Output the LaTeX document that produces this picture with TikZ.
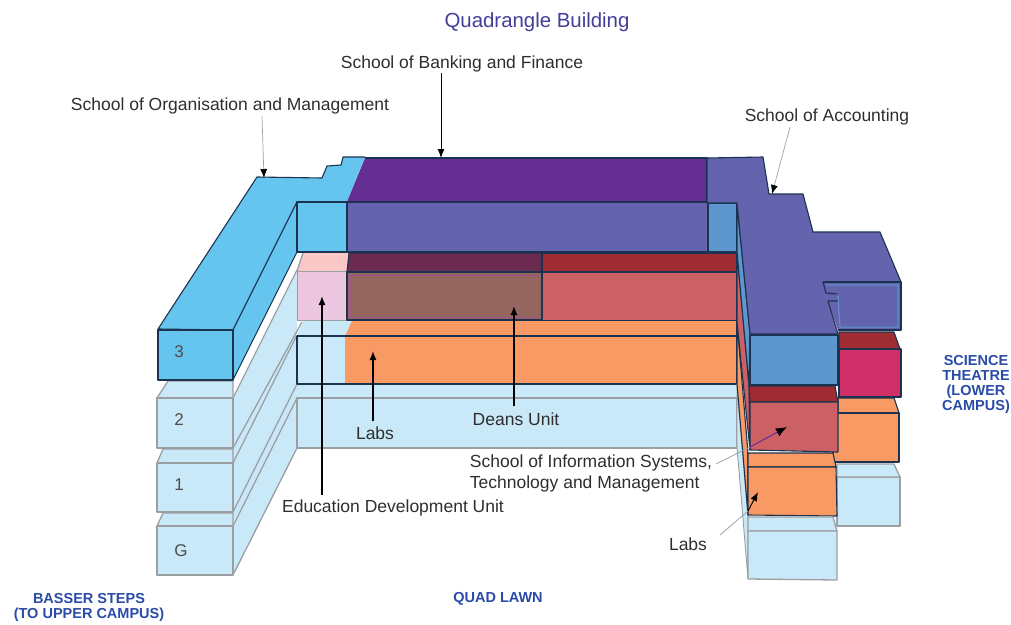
\documentclass[tikz,border=0pt]{standalone}
\usepackage{fontspec}
\setmainfont{Liberation Sans}
\usetikzlibrary{arrows.meta}
\definecolor{skyb}{HTML}{66C5EE}
\definecolor{palebl}{HTML}{C9E8F8}
\definecolor{purp}{HTML}{642D91}
\definecolor{viol}{HTML}{6463AE}
\definecolor{midbl}{HTML}{5E97CE}
\definecolor{dkred}{HTML}{A02C33}
\definecolor{salm}{HTML}{CB6165}
\definecolor{orng}{HTML}{F99A65}
\definecolor{pinkf}{HTML}{EDC6DF}
\definecolor{pinkt}{HTML}{FBC8C8}
\definecolor{mar}{HTML}{6B2A50}
\definecolor{mud}{HTML}{95655F}
\definecolor{crim}{HTML}{CE2F66}
\definecolor{edged}{HTML}{1B3350}
\definecolor{edgeg}{HTML}{9B9FA3}
\definecolor{titleb}{HTML}{433E98}
\definecolor{campb}{HTML}{2A4BA8}
\definecolor{inkc}{HTML}{2E2E2E}
\definecolor{leadg}{HTML}{9AA5AA}
\definecolor{frameb}{HTML}{5E97CE}
\definecolor{framem}{HTML}{A0508A}
\tikzset{
 dk/.style={draw=edged,line width=1.1pt,line join=round},
 gr/.style={draw=edgeg,line width=1.3pt,line join=round},
 lab/.style={font=\fontsize{17.5}{21}\selectfont,text=inkc,inner sep=0pt},
 camp/.style={font=\bfseries\fontsize{14.5}{14.8}\selectfont,text=campb,align=center,inner sep=0pt},
 lev/.style={font=\fontsize{17}{20}\selectfont,text=inkc!85,inner sep=0pt},
 lead/.style={draw=leadg,line width=0.7pt,-{Latex[length=9pt,width=7pt,black]}},
 blk/.style={draw=black,line width=1.3pt,-{Latex[length=9pt,width=7pt,black]}},
}
\begin{document}
\begin{tikzpicture}[x=1pt,y=-1pt]
\useasboundingbox (0,0) rectangle (1011,624);
% ---- pale lower levels, left wing
\fill[palebl] (233,398)--(297,270)--(297,320)--(233,448)--cycle;
\fill[palebl] (233,463)--(297,335)--(297,384)--(233,512)--cycle;
\fill[palebl] (233,448)--(297,320)--(297,335)--(233,463)--cycle;
\fill[palebl] (233,526)--(297,398)--(297,448)--(233,575)--cycle;
\fill[palebl] (233,512)--(297,384)--(297,398)--(233,526)--cycle;
\draw[gr] (233,398)--(297,270);
\draw[gr] (233,448)--(302,322);
\draw[gr] (233,463)--(297,335);
\draw[gr] (233,512)--(297,384);
\draw[gr] (233,526)--(297,398);
\draw[gr] (233,575)--(297,448);
\draw[gr] (297,398)--(297,448);
\fill[palebl,gr] (157,398)--(168,381)--(233,381)--(233,398)--cycle;
\fill[palebl,gr] (157,398) rectangle (233,448);
\fill[palebl,gr] (157,463)--(163,449)--(233,449)--(233,463)--cycle;
\fill[palebl,gr] (157,463) rectangle (233,512);
\fill[palebl,gr] (157,526)--(163,513)--(233,513)--(233,526)--cycle;
\fill[palebl,gr] (157,526) rectangle (233,575);
% ---- pale ground level, rear block
\fill[palebl] (297,384)--(737,384)--(737,398)--(297,398)--cycle;
\fill[palebl,gr] (297,398)--(737,398)--(737,448)--(297,448)--cycle;
% ---- top level, left wing (3)
\fill[skyb] (158,329)--(257,177)--(322,178)--(327,166)--(341,165)--(343,157)--(365,157)--(347,202)--(297,202)--(233,330)--cycle;
\draw[dk] (347,202)--(297,202)--(233,330)--(158,329)--(257,177)--(322,178)--(327,166)--(341,165)--(343,157)--(365,157);
\fill[skyb,dk] (233,330)--(297,202)--(297,252)--(233,380)--cycle;
\fill[skyb,dk] (158,330) rectangle (233,380);
\fill[skyb,dk] (297,202) rectangle (347,252);
% ---- top level, rear block
\fill[purp] (365,158)--(707,158)--(707,202)--(347,202)--cycle;
\draw[dk] (365,158)--(707,158)--(707,202);
\fill[viol,dk] (347,202) rectangle (708,252);
\fill[midbl,dk] (708,203) rectangle (737,252);
% ---- second level
\fill[pinkt] (303,253)--(354,253)--(349,271)--(297,271)--cycle;
\draw[gr] (303,253)--(297,271);
\fill[pinkf,draw=edgeg,line width=.8pt] (297,271) rectangle (347,320);
\fill[mar,dk] (349,253)--(542,253)--(542,272)--(347,272)--cycle;
\fill[mud,dk] (347,272) rectangle (542,320);
\draw[framem,line width=.8pt] (350,275) rectangle (539,317);
\fill[dkred,dk] (542,253) rectangle (737,272);
\fill[salm,dk] (542,272) rectangle (737,321);
% ---- first level
\fill[palebl] (303,321)--(352,321)--(349,336)--(297,336)--cycle;
\fill[palebl] (297,336) rectangle (345,384);
\fill[orng] (352,321)--(737,321)--(737,336)--(345,336)--cycle;
\fill[orng] (345,336) rectangle (737,384);
\draw[dk] (297,336)--(737,336);
\draw[dk] (297,336)--(297,384)--(737,384)--(737,321);
% ---- east wing, side strip
\fill[palebl,draw=edgeg,line width=.9pt] (737,384)--(748,517)--(748,579)--(737,447)--cycle;
\fill[orng,dk] (737,322)--(748,453)--(748,515)--(737,384)--cycle;
\fill[salm,dk] (737,252)--(749,385)--(750,450)--(737,322)--cycle;
\fill[midbl,dk] (737,204)--(750,334)--(749,385)--(737,252)--cycle;
% ---- far right tower
\fill[palebl,gr] (837,477)--(900,477)--(900,526)--(837,526)--cycle;
\fill[palebl,gr] (837,464)--(894,464)--(900,477)--(837,477)--cycle;
\fill[orng,dk] (838,398)--(894,398)--(899,413)--(838,413)--cycle;
\fill[orng,dk] (833,413) rectangle (899,462);
\fill[dkred,dk] (839,332)--(894,332)--(900,349)--(839,349)--cycle;
\fill[crim,dk] (839,349) rectangle (901,397);
\fill[viol] (823,282)--(901,282)--(901,330)--(838,330)--(828,301)--(838,301)--(837,294)--(826,293)--cycle;
\draw[frameb,line width=1pt] (838,296)--(840,327)--(898,327)--(898,285)--(826,285);
% ---- east wing, front
\fill[viol] (707,158)--(763,157)--(769,194)--(803,194)--(813,232)--(880,232)--(901,282)--(823,282)--(826,293)--(837,294)--(838,301)--(828,301)--(838,334)--(750,334)--(737,203)--(707,203)--cycle;
\draw[dk] (707,203)--(707,158)--(763,157)--(769,194)--(803,194)--(813,232)--(880,232)--(901,282)--(823,282)--(826,293)--(837,294);
\draw[dk] (838,301)--(828,301)--(838,334)--(750,334)--(737,203)--(707,203);
\draw[dk] (823,282)--(901,282)--(901,330)--(838,330);
\fill[midbl,dk] (750,335) rectangle (838,385);
\fill[dkred,dk] (749,386)--(835,386)--(838,402)--(750,402)--cycle;
\fill[salm,dk] (750,402)--(838,402)--(838,452)--(750,450)--cycle;
\fill[orng,dk] (748,453)--(833,453)--(836,467)--(748,467)--cycle;
\fill[orng,dk] (748,467)--(836,467)--(837,516)--(748,515)--cycle;
\fill[palebl,gr] (748,517)--(833,517)--(837,531)--(748,531)--cycle;
\fill[palebl,gr] (748,531)--(837,531)--(837,580)--(748,579)--cycle;
% ---- level numbers
\node[lev] (l3) at (179,352) {3};
\node[lev] (l2) at (179,420) {2};
\node[lev] (l1) at (179,485) {1};
\node[lev] (lg) at (181,551) {G};
% ---- labels
\node[font=\fontsize{20.4}{24}\selectfont,text=titleb,inner sep=0pt] (title) at (537,22) {Quadrangle Building};
\node[lab] (som) at (230,106) {School of Organisation and Management};
\node[lab] (sbf) at (462,64) {School of Banking and Finance};
\node[lab] (sac) at (827,117) {School of Accounting};
\node[lab] (labsa) at (375,433) {Labs};
\node[lab] (deans) at (516,419) {Deans Unit};
\node[lab] (edu) at (393,508) {Education Development Unit};
\node[lab,align=left,font=\fontsize{17.5}{21}\selectfont] (sis) at (591,473) {School of Information Systems,\\Technology and Management};
\node[lab] (labsb) at (688,544) {Labs};
\node[camp] (sci) at (976,384.5) {SCIENCE\\THEATRE\\(LOWER\\CAMPUS)};
\node[camp] (bas) at (89,607.5) {BASSER STEPS\\(TO UPPER CAMPUS)};
\node[camp] (quad) at (498,598.5) {QUAD LAWN};
% ---- arrow targets
\coordinate (tsom) at (264,178);
\coordinate (tsbf) at (441,158);
\coordinate (tsac) at (772,194);
\coordinate (tlaba) at (373,351);
\coordinate (tdean) at (514,306);
\coordinate (tedu) at (322,296);
\coordinate (msis) at (750,447);
\coordinate (tsis) at (787,427);
\coordinate (mlab) at (748,511);
\coordinate (tlab) at (758,492);
% ---- connectors
\draw[lead] (262,116) -- (tsom);
\draw[blk,line width=.9pt] (441,73) -- (tsbf);
\draw[lead] (790,127) -- (tsac);
\draw[blk] (373,421) -- (tlaba);
\draw[blk] (514,406) -- (tdean);
\draw[blk] (322,495) -- (tedu);
\draw[draw=leadg,line width=.8pt] (716,464) -- (msis);
\draw[draw=purp,line width=1pt,-{Latex[length=11pt,width=9pt,black]}] (msis) -- (tsis);
\draw[draw=leadg,line width=.8pt] (720,535) -- (mlab);
\draw[draw=black,line width=1pt,-{Latex[length=9pt,width=7pt,black]}] (mlab) -- (tlab);
\end{tikzpicture}
\end{document}
